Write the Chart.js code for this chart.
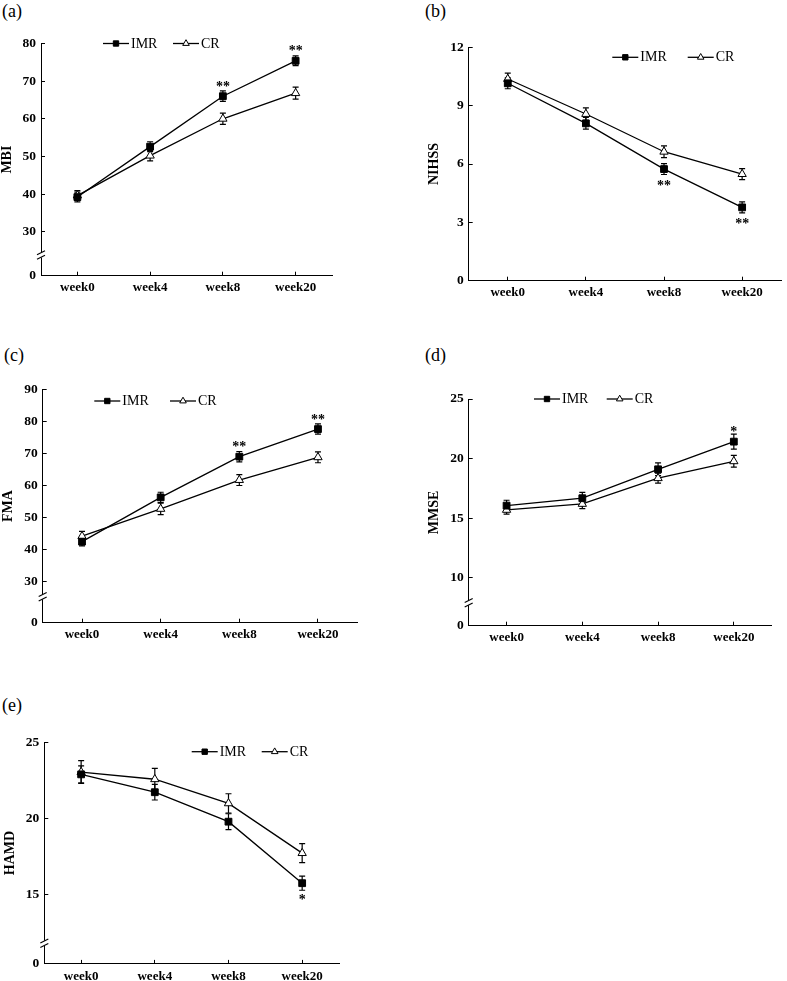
<!DOCTYPE html>
<html>
<head>
<meta charset="utf-8">
<script src="https://cdn.jsdelivr.net/npm/chart.js@4.4.1/dist/chart.umd.min.js"></script>
<style>
html, body { margin: 0; padding: 0; background: #fff; }
body { width: 787px; height: 981px; position: relative; overflow: hidden; font-family: 'Liberation Serif', serif; }
.panel { position: absolute; }
.panel canvas { display: block; }
.tag { position: absolute; font-size: 18px; line-height: 18px; color: #000; }
</style>
</head>
<body>
<div class="tag" style="left:2px;top:2px">(a)</div>
<div class="tag" style="left:425px;top:2px">(b)</div>
<div class="tag" style="left:4px;top:346px">(c)</div>
<div class="tag" style="left:425px;top:346px">(d)</div>
<div class="tag" style="left:2px;top:696px">(e)</div>
<script>
const weeks = ['week0', 'week4', 'week8', 'week20']

// (a) MBI
const mbiIMR = [39.2, 52.6, 66.0, 75.4]
const mbiIMRErr = [1.3, 1.3, 1.4, 1.3]
const mbiCR = [39.6, 50.2, 60.0, 66.8]
const mbiCRErr = [1.3, 1.4, 1.5, 1.6]
const mbiStars = ['', '', '**', '**']
const mbiTicks = [0, 30, 40, 50, 60, 70, 80]

// (b) NIHSS
const nihssIMR = [10.15, 8.09, 5.74, 3.77]
const nihssIMRErr = [0.28, 0.3, 0.28, 0.28]
const nihssCR = [10.37, 8.57, 6.63, 5.48]
const nihssCRErr = [0.3, 0.32, 0.3, 0.28]
const nihssStars = ['', '', '**', '**']
const nihssTicks = [0, 3, 6, 9, 12]

// (c) FMA
const fmaIMR = [42.5, 56.3, 69.0, 77.6]
const fmaIMRErr = [1.3, 1.6, 1.6, 1.6]
const fmaCR = [44.2, 52.7, 61.7, 68.8]
const fmaCRErr = [1.5, 1.8, 1.7, 1.7]
const fmaStars = ['', '', '**', '**']
const fmaTicks = [0, 30, 40, 50, 60, 70, 80, 90]

// (d) MMSE
const mmseIMR = [16.05, 16.67, 19.1, 21.42]
const mmseIMRErr = [0.45, 0.49, 0.53, 0.63]
const mmseCR = [15.69, 16.19, 18.35, 19.77]
const mmseCRErr = [0.35, 0.39, 0.42, 0.49]
const mmseStars = ['', '', '', '*']
const mmseTicks = [0, 10, 15, 20, 25]

// (e) HAMD
const hamdIMR = [22.9, 21.73, 19.8, 15.77]
const hamdIMRErr = [0.55, 0.51, 0.52, 0.46]
const hamdCR = [23.05, 22.58, 21.0, 17.74]
const hamdCRErr = [0.75, 0.71, 0.63, 0.62]
const hamdStars = ['', '', '', '*']
const hamdTicks = [0, 15, 20, 25]

Chart.defaults.font.family = "'Liberation Serif', serif"
Chart.defaults.color = '#000'

// linear scale with a compressed segment between 0 and the break value
class BrokenScale extends Chart.LinearScale {
	static id = 'broken'
	getPixelForValue(value) {
		const b = this.options.breakAt
		const f = this.options.breakFrac
		if (!b) return super.getPixelForValue(value)
		let dec
		if (value <= b) dec = (value - this.min) / (b - this.min) * f
		else dec = f + (value - b) / (this.max - b) * (1 - f)
		return this.getPixelForDecimal(dec)
	}
}
Chart.register(BrokenScale)

const panels = [
	{ box: [0, 0, 390, 320], area: [41, 43.5, 332, 275.7], title: 'MBI',
		imr: mbiIMR, imrErr: mbiIMRErr, cr: mbiCR, crErr: mbiCRErr, stars: mbiStars, starDir: -1,
		max: 80, ticks: mbiTicks, breakAt: 23.8, breakFrac: 0.089, legend: [103, 173, 43.5] },
	{ box: [390, 0, 397, 320], area: [468.7, 47.3, 781.7, 280.7], title: 'NIHSS',
		imr: nihssIMR, imrErr: nihssIMRErr, cr: nihssCR, crErr: nihssCRErr, stars: nihssStars, starDir: 1,
		max: 12, ticks: nihssTicks, breakAt: null, breakFrac: 0, legend: [612.3, 687.7, 57.3] },
	{ box: [0, 320, 390, 330], area: [42.7, 389.3, 357.3, 622.7], title: 'FMA',
		imr: fmaIMR, imrErr: fmaIMRErr, cr: fmaCR, crErr: fmaCRErr, stars: fmaStars, starDir: -1,
		max: 90, ticks: fmaTicks, breakAt: 25.3, breakFrac: 0.111, legend: [94.3, 170, 401] },
	{ box: [390, 320, 397, 330], area: [468.7, 399, 771.7, 625.7], title: 'MMSE',
		imr: mmseIMR, imrErr: mmseIMRErr, cr: mmseCR, crErr: mmseCRErr, stars: mmseStars, starDir: -1,
		max: 25, ticks: mmseTicks, breakAt: 7.9, breakFrac: 0.1015, legend: [534, 606.7, 399] },
	{ box: [0, 650, 390, 331], area: [44.3, 742.3, 339, 964], title: 'HAMD',
		imr: hamdIMR, imrErr: hamdIMRErr, cr: hamdCR, crErr: hamdCRErr, stars: hamdStars, starDir: 1,
		max: 25, ticks: hamdTicks, breakAt: 11.84, breakFrac: 0.0934, legend: [191.7, 261.7, 751.7] },
]

function extras(p) {
	const [bx, by] = p.box
	return {
		id: 'extras',
		beforeDatasetsDraw(chart) {
			const ctx = chart.ctx
			const ys = chart.scales.y
			ctx.save()
			ctx.strokeStyle = '#000'
			ctx.lineWidth = 1.2
			;[p.imrErr, p.crErr].forEach((errs, i) => {
				const meta = chart.getDatasetMeta(i)
				const vals = chart.data.datasets[i].data
				meta.data.forEach((pt, j) => {
					const hi = ys.getPixelForValue(vals[j] + errs[j])
					const lo = ys.getPixelForValue(vals[j] - errs[j])
					ctx.beginPath()
					ctx.moveTo(pt.x, hi); ctx.lineTo(pt.x, lo)
					ctx.moveTo(pt.x - 3, hi); ctx.lineTo(pt.x + 3, hi)
					ctx.moveTo(pt.x - 3, lo); ctx.lineTo(pt.x + 3, lo)
					ctx.stroke()
				})
			})
			ctx.restore()
		},
		afterDatasetsDraw(chart) {
			const ctx = chart.ctx
			ctx.save()
			// significance marks
			ctx.fillStyle = '#000'
			ctx.font = "bold 14px 'Liberation Serif'"
			ctx.textAlign = 'center'
			ctx.textBaseline = 'alphabetic'
			const meta = chart.getDatasetMeta(0)
			p.stars.forEach((s, j) => {
				if (!s) return
				const pt = meta.data[j]
				ctx.fillText(s, pt.x, pt.y + p.starDir * 13 + 7.5)
			})
			// legend
			const [x1, x2, ly] = p.legend
			const items = [
				{ x: x1 - bx, style: 'rect', fill: '#000', text: 'IMR' },
				{ x: x2 - bx, style: 'triangle', fill: '#fff', text: 'CR' },
			]
			const y = ly - by
			ctx.font = "14px 'Liberation Serif'"
			ctx.textAlign = 'left'
			ctx.textBaseline = 'middle'
			items.forEach(it => {
				ctx.strokeStyle = '#000'
				ctx.lineWidth = 1.3
				ctx.beginPath(); ctx.moveTo(it.x, y); ctx.lineTo(it.x + 26, y); ctx.stroke()
				ctx.fillStyle = it.fill
				ctx.lineWidth = 1
				Chart.helpers.drawPoint(ctx, { pointStyle: it.style, radius: 3.8, rotation: 0, borderWidth: 1 }, it.x + 13, y)
				ctx.fillStyle = '#000'
				ctx.fillText(it.text, it.x + 28, y + 0.5)
			})
			ctx.restore()
		},
		afterDraw(chart) {
			if (!p.breakAt) return
			const ctx = chart.ctx
			const y = chart.scales.y.getPixelForValue(p.breakAt)
			const x = chart.chartArea.left
			ctx.save()
			ctx.fillStyle = '#fff'
			ctx.fillRect(x - 2, y - 2.5, 4, 5)
			ctx.strokeStyle = '#000'
			ctx.lineWidth = 1.1
			for (const d of [-2.2, 2.2]) {
				ctx.beginPath()
				ctx.moveTo(x - 4, y + d + 2)
				ctx.lineTo(x + 4, y + d - 2)
				ctx.stroke()
			}
			ctx.restore()
		},
	}
}

function makeChart(p) {
	const [bx, by, bw, bh] = p.box
	const [L, T, R, B] = p.area
	const wrap = document.createElement('div')
	wrap.className = 'panel'
	wrap.style.left = bx + 'px'
	wrap.style.top = by + 'px'
	wrap.style.width = bw + 'px'
	wrap.style.height = bh + 'px'
	const canvas = document.createElement('canvas')
	canvas.width = bw
	canvas.height = bh
	canvas.style.width = bw + 'px'
	canvas.style.height = bh + 'px'
	wrap.appendChild(canvas)
	document.body.appendChild(wrap)
	const xH = Math.min(30, by + bh - B)
	const grid = { drawOnChartArea: false, tickLength: -4, color: '#000', lineWidth: 1, offset: false }
	const border = { color: '#000', width: 1 }
	return new Chart(canvas, {
		type: 'line',
		data: {
			labels: weeks,
			datasets: [{
				label: 'IMR',
				data: p.imr,
				borderColor: '#000',
				borderWidth: 1.3,
				pointStyle: 'rect',
				pointRadius: 4.8,
				pointBackgroundColor: '#000',
				pointBorderColor: '#000',
				pointBorderWidth: 1,
			}, {
				label: 'CR',
				data: p.cr,
				borderColor: '#000',
				borderWidth: 1.3,
				pointStyle: 'triangle',
				pointRadius: 4.8,
				pointBackgroundColor: '#fff',
				pointBorderColor: '#000',
				pointBorderWidth: 1,
			}],
		},
		options: {
			responsive: false,
			animation: false,
			events: [],
			layout: { padding: { left: 0, top: T - by, right: bx + bw - R, bottom: by + bh - B - xH } },
			plugins: { legend: { display: false }, tooltip: { enabled: false } },
			scales: {
				x: {
					offset: true,
					grid: grid,
					border: border,
					ticks: { padding: 8.5, font: { size: 13, weight: 'bold' }, color: '#000', maxRotation: 0, autoSkip: false },
					afterFit: s => { s.height = xH },
				},
				y: {
					type: 'broken',
					min: 0,
					max: p.max,
					breakAt: p.breakAt,
					breakFrac: p.breakFrac,
					afterBuildTicks: s => { s.ticks = p.ticks.map(v => ({ value: v })) },
					grid: grid,
					border: border,
					ticks: { padding: 9, font: { size: 13.5, weight: 'bold' }, color: '#000', callback: v => v },
					title: {
						display: true,
						text: p.title,
						color: '#000',
						font: { size: 14, weight: 'bold', lineHeight: 1 },
						padding: { top: Math.max(0, L - 34 - bx - 7), bottom: 0 },
					},
					afterFit: s => { s.width = L - bx },
				},
			},
		},
		plugins: [extras(p)],
	})
}

panels.forEach(makeChart)
</script>
</body>
</html>
